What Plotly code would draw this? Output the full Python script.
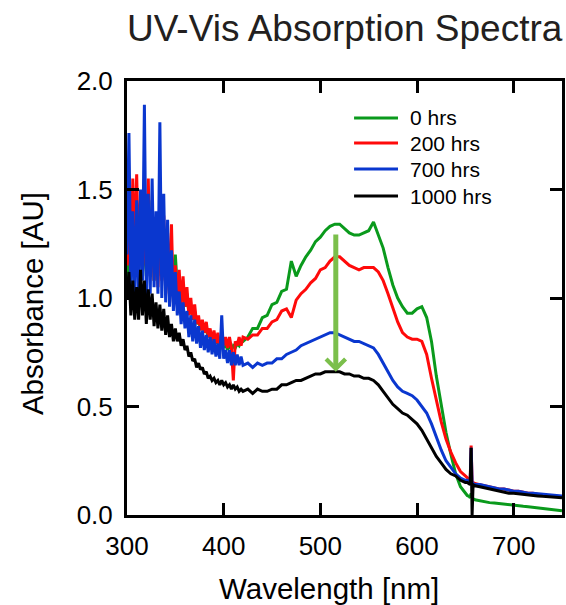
"""
UV-Vis absorption spectra of the film after 0, 200, 700 and 1000 hrs
"""

import plotly.graph_objects as go

# wavelength grid [nm]: dense in the noisy UV part, coarser afterwards,
# a few points around the 656 nm lamp line
wl_noisy = list(range(300, 422, 2))
wl_main = list(range(425, 655, 5))
wl_lamp = [652, 654, 655, 656, 657, 658, 660]
wl_tail = list(range(665, 755, 5))
wavelength = wl_noisy + wl_main + wl_lamp + wl_tail

labels = ["0 hrs", "200 hrs", "700 hrs", "1000 hrs"]
colors = ["#0a9a1c", "#ff0a0a", "#0a37cf", "#000000"]

# absorbance [AU]
abs_0h = [
    # 300 - 420 nm
    1.05, 1.25, 1.08, 1.40, 1.12, 1.45, 1.10, 1.38, 1.12, 1.30,
    1.10, 1.42, 1.10, 1.45, 1.08, 1.30, 1.10, 1.35, 1.10, 1.30,
    1.12, 1.22, 1.10, 1.19, 1.08, 1.20, 1.05, 1.10, 1.00, 1.05,
    0.96, 1.02, 0.93, 0.97, 0.90, 0.94, 0.88, 0.90, 0.86, 0.88,
    0.84, 0.86, 0.82, 0.84, 0.80, 0.82, 0.79, 0.81, 0.78, 0.80,
    0.77, 0.79, 0.76, 0.79, 0.76, 0.78, 0.77, 0.79, 0.78, 0.80,
    0.80,
    # 425 - 650 nm
    0.82, 0.86, 0.86, 0.91, 0.92, 0.97, 0.98, 1.03, 1.04, 1.17,
    1.10, 1.15, 1.19, 1.22, 1.26, 1.28, 1.31, 1.33, 1.34, 1.34,
    1.32, 1.30, 1.29, 1.29, 1.30, 1.31, 1.35, 1.29, 1.23, 1.14,
    1.06, 1.00, 0.96, 0.93, 0.93, 0.95, 0.96, 0.91, 0.80, 0.64,
    0.50, 0.38, 0.28, 0.19, 0.13, 0.10,
    # lamp line
    0.09, 0.085, 0.08, 0.10, 0.08, 0.075, 0.07,
    # 665 - 750 nm
    0.065, 0.06, 0.057, 0.055, 0.052, 0.05, 0.048, 0.045, 0.043, 0.04,
    0.038, 0.035, 0.032, 0.03, 0.027, 0.025, 0.022, 0.02,
]

abs_200h = [
    1.15, 1.30, 1.10, 1.55, 1.20, 1.57, 1.18, 1.45, 1.12, 1.35,
    1.15, 1.55, 1.10, 1.40, 1.08, 1.35, 1.05, 1.30, 1.08, 1.38,
    1.02, 1.30, 1.00, 1.34, 0.98, 1.15, 0.98, 1.13, 0.96, 1.10,
    0.96, 1.05, 0.92, 1.00, 0.90, 0.97, 0.88, 0.92, 0.85, 0.90,
    0.84, 0.89, 0.82, 0.86, 0.80, 0.85, 0.79, 0.84, 0.78, 0.82,
    0.78, 0.82, 0.77, 0.82, 0.77, 0.62, 0.80, 0.78, 0.82, 0.78,
    0.82,
    0.81, 0.83, 0.83, 0.86, 0.86, 0.89, 0.90, 0.94, 0.95, 0.91,
    0.99, 1.02, 1.04, 1.07, 1.09, 1.13, 1.14, 1.17, 1.19, 1.19,
    1.17, 1.15, 1.14, 1.13, 1.14, 1.14, 1.14, 1.12, 1.08, 1.02,
    0.95, 0.89, 0.84, 0.82, 0.81, 0.81, 0.80, 0.74, 0.63, 0.53,
    0.43, 0.35, 0.29, 0.24, 0.20, 0.18,
    0.17, 0.16, 0.16, 0.32, 0.155, 0.15, 0.145,
    0.14, 0.135, 0.13, 0.125, 0.12, 0.12, 0.115, 0.11, 0.11, 0.105,
    0.10, 0.10, 0.095, 0.095, 0.09, 0.09, 0.085, 0.085,
]

abs_700h = [
    1.20, 1.76, 1.05, 1.40, 0.98, 1.45, 1.02, 1.50, 1.08, 1.89,
    1.00, 1.48, 1.02, 1.55, 1.05, 1.40, 1.02, 1.81, 1.00, 1.48,
    0.98, 1.36, 0.96, 1.22, 0.94, 1.12, 0.92, 1.03, 0.88, 0.98,
    0.86, 0.94, 0.82, 0.92, 0.80, 0.90, 0.79, 0.87, 0.77, 0.85,
    0.76, 0.83, 0.75, 0.82, 0.74, 0.81, 0.73, 0.79, 0.72, 0.92,
    0.72, 0.76, 0.70, 0.76, 0.69, 0.75, 0.69, 0.74, 0.69, 0.73,
    0.69,
    0.70, 0.68, 0.70, 0.69, 0.70, 0.70, 0.72, 0.72, 0.74, 0.75,
    0.76, 0.78, 0.79, 0.80, 0.81, 0.82, 0.83, 0.84, 0.84, 0.83,
    0.82, 0.81, 0.80, 0.80, 0.79, 0.78, 0.77, 0.74, 0.70, 0.66,
    0.62, 0.59, 0.57, 0.56, 0.55, 0.53, 0.50, 0.47, 0.42, 0.36,
    0.30, 0.25, 0.22, 0.19, 0.17, 0.16,
    0.16, 0.155, 0.15, 0.31, 0.15, 0.145, 0.14,
    0.14, 0.135, 0.13, 0.125, 0.12, 0.12, 0.115, 0.11, 0.11, 0.105,
    0.10, 0.10, 0.098, 0.095, 0.093, 0.09, 0.088, 0.087,
]

abs_1000h = [
    1.00, 1.12, 0.92, 1.08, 0.90, 1.05, 0.90, 1.13, 0.92, 1.08,
    0.88, 1.04, 0.90, 1.02, 0.87, 0.98, 0.86, 0.97, 0.85, 0.95,
    0.83, 0.92, 0.82, 0.88, 0.80, 0.86, 0.80, 0.84, 0.78, 0.81,
    0.76, 0.78, 0.73, 0.75, 0.71, 0.72, 0.68, 0.70, 0.67, 0.68,
    0.65, 0.66, 0.63, 0.64, 0.62, 0.63, 0.61, 0.62, 0.60, 0.62,
    0.60, 0.61, 0.59, 0.60, 0.58, 0.60, 0.58, 0.59, 0.57, 0.58,
    0.57,
    0.58, 0.56, 0.58, 0.57, 0.57, 0.58, 0.58, 0.60, 0.60, 0.61,
    0.62, 0.62, 0.63, 0.64, 0.65, 0.65, 0.66, 0.66, 0.66, 0.66,
    0.65, 0.65, 0.64, 0.64, 0.63, 0.63, 0.62, 0.60, 0.57, 0.54,
    0.51, 0.49, 0.47, 0.46, 0.44, 0.42, 0.39, 0.35, 0.31, 0.27,
    0.24, 0.21, 0.19, 0.18, 0.16, 0.15,
    0.15, 0.145, 0.14, 0.31, 0.00, 0.14, 0.135,
    0.13, 0.125, 0.12, 0.115, 0.11, 0.105, 0.10, 0.10, 0.097, 0.095,
    0.093, 0.09, 0.088, 0.086, 0.085, 0.083, 0.082, 0.08,
]

series = [abs_0h, abs_200h, abs_700h, abs_1000h]

FONT = "Liberation Sans, Arial, Helvetica, sans-serif"

fig = go.Figure()

for name, color, values in zip(labels, colors, series):
    fig.add_trace(go.Scatter(
        x=wavelength,
        y=values,
        mode="lines",
        name=name,
        line=dict(color=color, width=3),
        showlegend=False,
    ))

axis_style = dict(
    showline=True,
    linecolor="black",
    linewidth=3,
    mirror="ticks",
    ticks="inside",
    ticklen=12,
    tickwidth=3,
    tickcolor="black",
    showgrid=False,
    zeroline=False,
    automargin=False,
    tickfont=dict(family=FONT, size=26, color="black"),
)

fig.update_xaxes(range=[300, 750], tickvals=[300, 400, 500, 600, 700],
                 ticklabelstandoff=6, **axis_style)
fig.update_yaxes(range=[0, 2], tickvals=[0, 0.5, 1.0, 1.5, 2.0],
                 tickformat=".1f", ticklabelstandoff=6, **axis_style)

fig.update_layout(
    width=566,
    height=605,
    margin=dict(l=127, r=4, t=81, b=90),
    paper_bgcolor="white",
    plot_bgcolor="white",
    font=dict(family=FONT, color="black"),
    showlegend=False,
)

# title and axis titles placed as in the original
fig.add_annotation(text="UV-Vis Absorption Spectra", xref="paper", yref="paper",
                   x=0.5, y=1.0, xanchor="center", yanchor="middle", yshift=53,
                   showarrow=False,
                   font=dict(family=FONT, size=37, color="#231f20"))
fig.add_annotation(text="Wavelength [nm]", xref="paper", yref="paper",
                   x=0.464, y=0, xanchor="center", yanchor="middle", yshift=-73,
                   showarrow=False,
                   font=dict(family=FONT, size=29.5, color="black"))
fig.add_annotation(text="Absorbance [AU]", xref="paper", yref="paper",
                   x=0, y=0.486, xanchor="center", yanchor="middle", xshift=-95,
                   textangle=-90, showarrow=False,
                   font=dict(family=FONT, size=29.5, color="black"))

# legend drawn inside the frame, top right: line sample + label
legend_rows = [0.915, 0.857, 0.797, 0.735]
for name, color, row in zip(labels, colors, legend_rows):
    fig.add_shape(type="line", xref="paper", yref="paper",
                  x0=0.522, x1=0.623, y0=row, y1=row,
                  line=dict(color=color, width=3))
    fig.add_annotation(text=name, xref="paper", yref="paper",
                       x=0.646, y=row, xanchor="left", yanchor="middle",
                       showarrow=False,
                       font=dict(family=FONT, size=21, color="black"))

# green arrow showing the drop of the 520 nm band
fig.add_annotation(x=516, y=0.66, ax=516, ay=1.30, xref="x", yref="y",
                   axref="x", ayref="y", text="", showarrow=True,
                   arrowhead=4, arrowsize=0.75, arrowwidth=5,
                   arrowcolor="#7bbf4b")

# drop the default page margin so the figure fills the window exactly
fig.write_html(
    "out.html",
    config={"displayModeBar": False},
    post_script="document.body.style.margin='0';"
                "document.documentElement.style.overflow='hidden';",
)
